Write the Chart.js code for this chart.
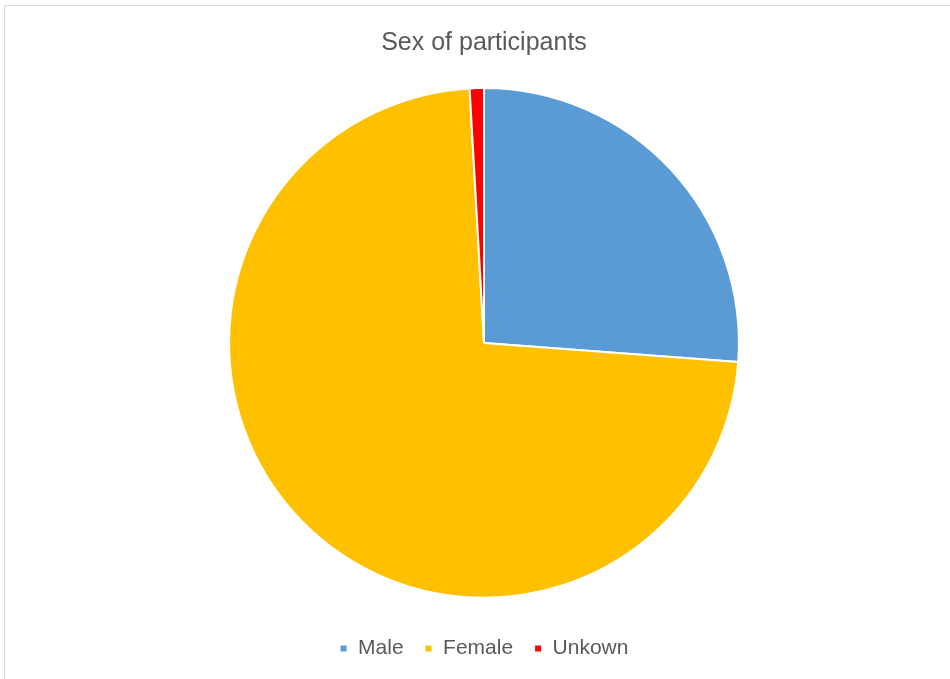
<!DOCTYPE html>
<html>
<head>
<meta charset="utf-8">
<script src="https://cdn.jsdelivr.net/npm/chart.js@4.4.0/dist/chart.umd.min.js"></script>
<style>
  html, body { margin: 0; padding: 0; background: #fff; overflow: hidden; }
  #wrap { position: absolute; left: 0; top: 0; width: 950px; height: 679px; }
  #frame { position: absolute; left: 4px; top: 5px; width: 980px; height: 700px; border: 1px solid #d9d9d9; pointer-events: none; }
</style>
</head>
<body>
<div id="frame"></div>
<div id="wrap"><canvas id="chartSex"></canvas></div>
<script>
// Share of participants by sex (percent)
const categories = ["Male", "Female", "Unkown"];
const shares = [26.2, 72.9, 0.9];
const sliceColors = ["#5B9BD5", "#FFC000", "#FF0000"];

const ctx = document.getElementById("chartSex").getContext("2d");
new Chart(ctx, {
  type: "pie",
  data: {
    labels: categories,
    datasets: [
      {
        data: shares,
        backgroundColor: sliceColors,
        borderColor: "#ffffff",
        borderWidth: 2,
      },
    ],
  },
  options: {
    responsive: true,
    maintainAspectRatio: false,
    animation: false,
    layout: { padding: { left: 18, bottom: 10 } },
    plugins: {
      title: {
        display: true,
        text: "Sex of participants",
        color: "#595959",
        font: { family: "Liberation Sans", size: 25, weight: "normal" },
        padding: { top: 28, bottom: 29 },
      },
      legend: {
        position: "bottom",
        // empty legend title only used as a spacer above the items
        title: { display: true, text: "", font: { size: 1 }, padding: { top: 17, bottom: 0 } },
        labels: {
          color: "#595959",
          font: { family: "Liberation Sans", size: 21 },
          boxWidth: 8,
          boxHeight: 8,
          padding: 21,
        },
      },
      tooltip: { enabled: false },
    },
  },
});
</script>
</body>
</html>
